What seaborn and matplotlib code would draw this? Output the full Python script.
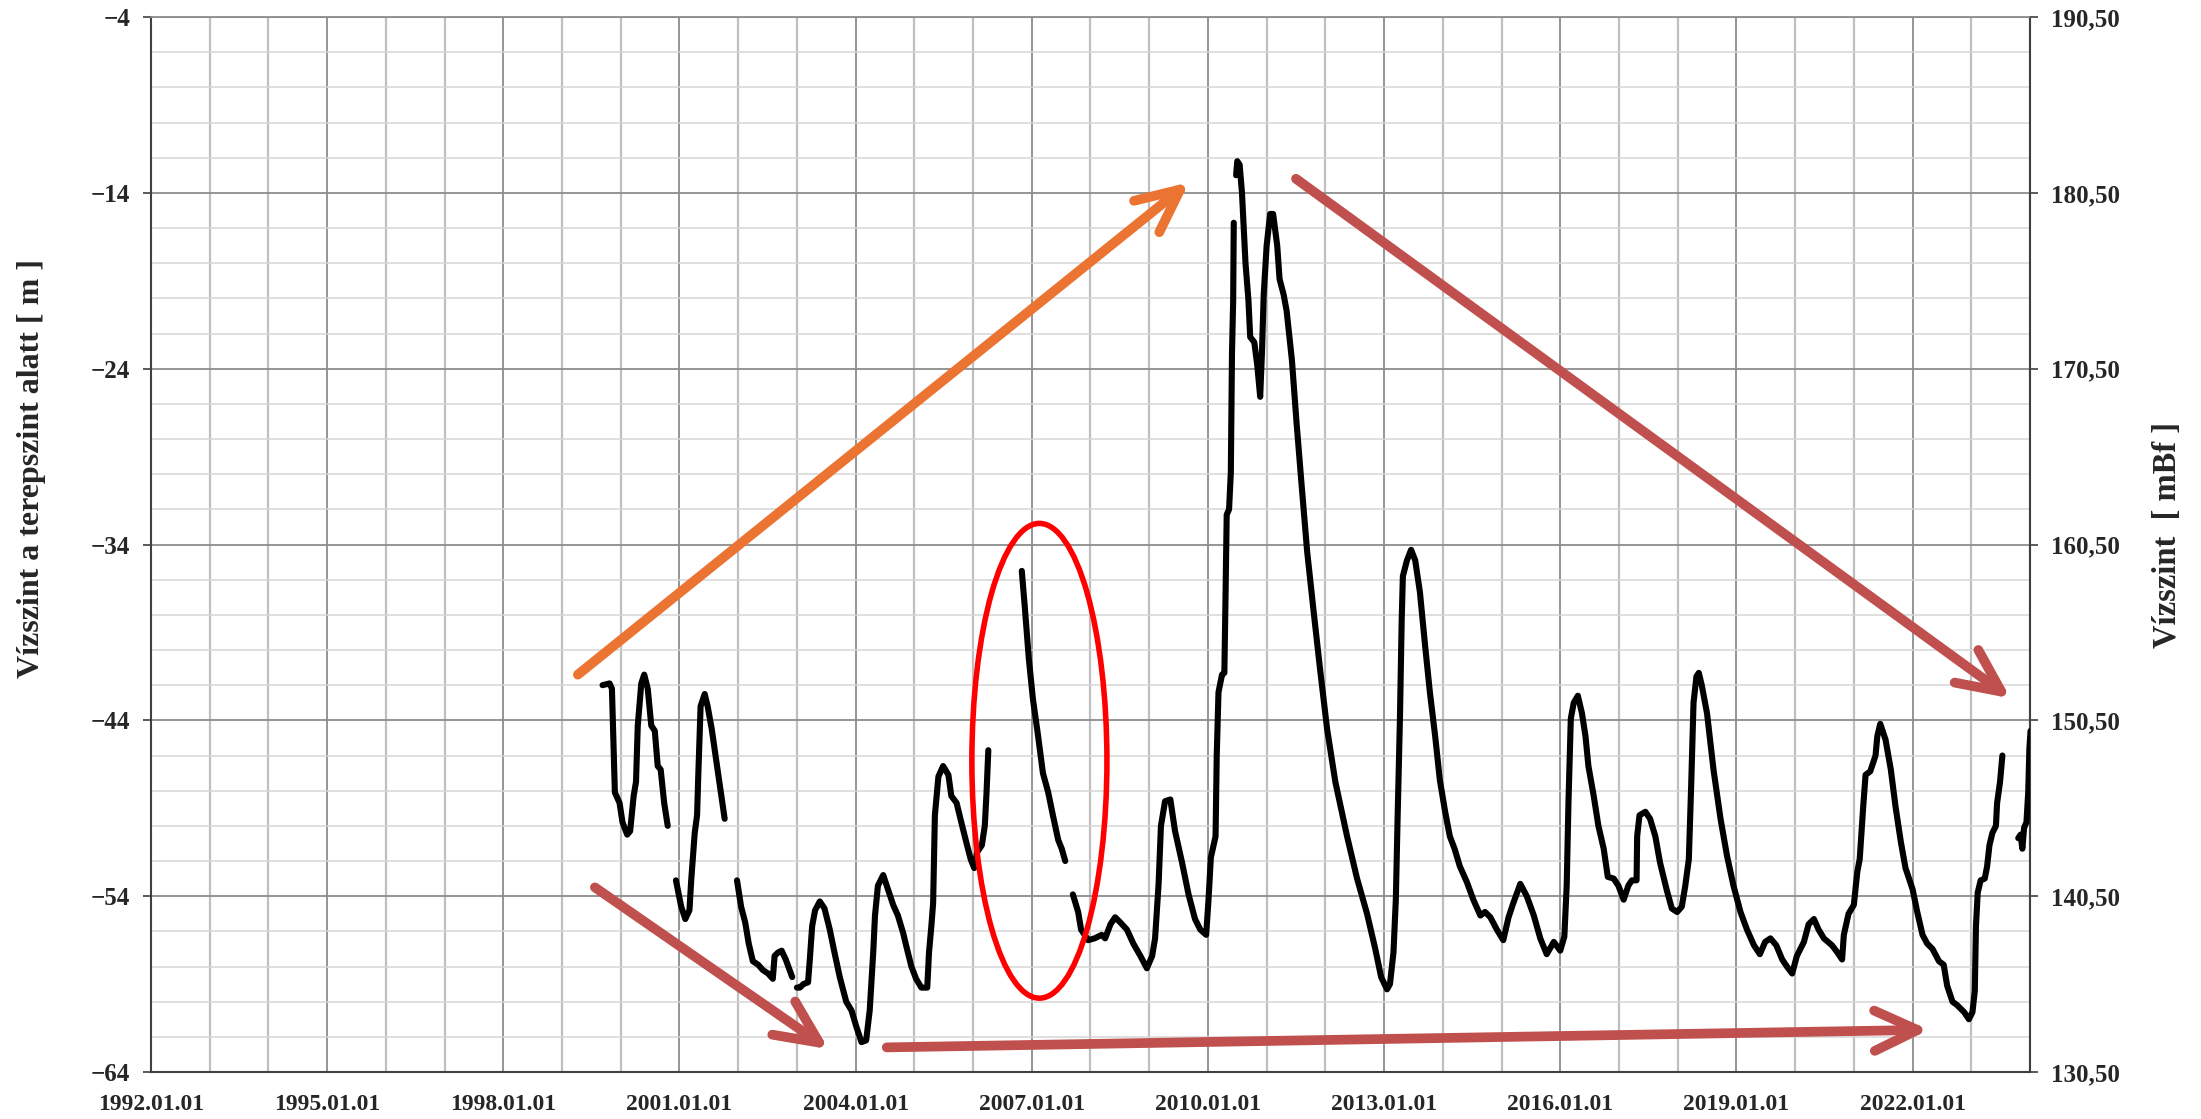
import pandas as pd
import matplotlib.pyplot as plt
import seaborn as sns
from matplotlib.patches import Ellipse
from matplotlib.ticker import MultipleLocator, FixedLocator, FuncFormatter

# Vízszint adatok (tizedes év, m a terepszint alatt), szakaszonként
ev_1 = [1999.69, 1999.81, 1999.85, 1999.90, 1999.98, 2000.03, 2000.11, 2000.16, 2000.22, 2000.26,
        2000.29, 2000.35, 2000.40, 2000.46, 2000.52, 2000.58, 2000.63, 2000.68, 2000.74, 2000.80]
szint_1 = [-42.0, -41.9, -42.2, -48.1, -48.7, -49.8, -50.5, -50.3, -48.3, -47.5,
           -44.3, -41.9, -41.4, -42.2, -44.3, -44.6, -46.6, -46.8, -48.7, -50.0]

ev_2 = [2000.94, 2001.03, 2001.10, 2001.17, 2001.20, 2001.26, 2001.30, 2001.32, 2001.36, 2001.43,
        2001.48, 2001.55, 2001.64, 2001.77]
szint_2 = [-53.1, -54.6, -55.3, -54.8, -53.1, -50.4, -49.4, -47.2, -43.2, -42.5,
           -43.2, -44.5, -46.6, -49.6]

ev_3 = [2001.98, 2002.05, 2002.12, 2002.18, 2002.25, 2002.34, 2002.42, 2002.51, 2002.59, 2002.62,
        2002.68, 2002.74, 2002.81, 2002.92]
szint_3 = [-53.1, -54.6, -55.5, -56.7, -57.7, -57.9, -58.2, -58.4, -58.7, -57.4,
           -57.2, -57.1, -57.6, -58.6]

ev_4 = [2003.00, 2003.05, 2003.11, 2003.19, 2003.22, 2003.26, 2003.31, 2003.39, 2003.47, 2003.56,
        2003.64, 2003.73, 2003.84, 2003.93, 2004.01, 2004.10, 2004.18, 2004.24, 2004.30, 2004.33,
        2004.38, 2004.47, 2004.55, 2004.64, 2004.72, 2004.81, 2004.86, 2004.95, 2005.03, 2005.12,
        2005.22, 2005.25, 2005.29, 2005.32, 2005.35, 2005.41, 2005.49, 2005.58, 2005.63, 2005.72,
        2005.80, 2005.89, 2005.96, 2006.02, 2006.07, 2006.15, 2006.20, 2006.23, 2006.26]
szint_4 = [-59.2, -59.2, -59.0, -58.9, -57.6, -55.7, -54.8, -54.3, -54.7, -55.9,
           -57.2, -58.6, -60.0, -60.5, -61.4, -62.3, -62.2, -60.5, -57.2, -55.1,
           -53.4, -52.8, -53.6, -54.5, -55.1, -56.1, -56.8, -58.0, -58.7, -59.2,
           -59.2, -57.2, -55.7, -54.4, -49.4, -47.2, -46.6, -47.1, -48.3, -48.7,
           -49.8, -51.0, -51.9, -52.4, -51.5, -51.1, -50.0, -48.1, -45.7]

ev_5 = [2006.83, 2006.88, 2006.95, 2007.02, 2007.10, 2007.19, 2007.28, 2007.36, 2007.45, 2007.51, 2007.57]
szint_5 = [-35.5, -37.5, -40.5, -42.8, -44.7, -47.0, -48.1, -49.4, -50.8, -51.3, -52.0]

ev_6 = [2007.70, 2007.79, 2007.84, 2007.96, 2008.07, 2008.19, 2008.25, 2008.34, 2008.42, 2008.51,
        2008.62, 2008.73, 2008.85, 2008.96, 2009.05, 2009.10, 2009.16, 2009.20, 2009.27, 2009.36,
        2009.44, 2009.56, 2009.67, 2009.78, 2009.87, 2009.97, 2010.01, 2010.05, 2010.13, 2010.15,
        2010.18, 2010.24, 2010.28, 2010.30, 2010.32, 2010.36, 2010.39, 2010.41, 2010.43, 2010.44]
szint_6 = [-53.9, -54.9, -55.9, -56.5, -56.4, -56.2, -56.4, -55.6, -55.2, -55.5,
           -55.9, -56.7, -57.4, -58.1, -57.4, -56.4, -53.3, -50.0, -48.6, -48.5,
           -50.3, -52.1, -53.9, -55.3, -55.9, -56.2, -54.2, -51.8, -50.6, -46.0,
           -42.4, -41.4, -41.3, -36.9, -32.3, -32.0, -29.9, -23.1, -20.1, -15.7]

ev_7 = [2010.48, 2010.50, 2010.54, 2010.58, 2010.64, 2010.69, 2010.72, 2010.79, 2010.84, 2010.89,
        2010.92, 2010.95, 2011.00, 2011.06, 2011.11, 2011.18, 2011.22, 2011.29, 2011.34, 2011.43,
        2011.51, 2011.60, 2011.69, 2011.80, 2011.91, 2012.03, 2012.17, 2012.37, 2012.54, 2012.71,
        2012.85, 2012.95, 2013.05, 2013.10, 2013.16, 2013.20, 2013.23, 2013.27, 2013.30, 2013.32,
        2013.39, 2013.46, 2013.53, 2013.61, 2013.70, 2013.78, 2013.87, 2013.95, 2014.04, 2014.12,
        2014.20, 2014.29, 2014.41, 2014.52, 2014.64, 2014.72, 2014.81, 2014.92, 2015.03, 2015.12,
        2015.20, 2015.32, 2015.43, 2015.55, 2015.66, 2015.77, 2015.89, 2016.00, 2016.07, 2016.11,
        2016.14, 2016.18, 2016.23, 2016.30, 2016.37, 2016.43, 2016.48, 2016.57, 2016.65, 2016.74,
        2016.81, 2016.91, 2016.99, 2017.08, 2017.16, 2017.22, 2017.30, 2017.31, 2017.35, 2017.45,
        2017.53, 2017.62, 2017.70, 2017.81, 2017.90, 2017.99, 2018.07, 2018.13, 2018.19, 2018.23,
        2018.27, 2018.32, 2018.36, 2018.41, 2018.50, 2018.61, 2018.73, 2018.84, 2018.95, 2019.07,
        2019.18, 2019.30, 2019.40, 2019.49, 2019.58, 2019.68, 2019.78, 2019.86, 2019.95, 2020.03,
        2020.15, 2020.23, 2020.32, 2020.40, 2020.49, 2020.63, 2020.72, 2020.80, 2020.83, 2020.91,
        2021.00, 2021.06, 2021.10, 2021.16, 2021.20, 2021.28, 2021.37, 2021.40, 2021.45, 2021.54,
        2021.63, 2021.71, 2021.80, 2021.88, 2022.00, 2022.08, 2022.17, 2022.25, 2022.34, 2022.45,
        2022.53, 2022.59, 2022.68, 2022.76, 2022.88, 2022.96, 2023.02, 2023.06, 2023.08, 2023.11,
        2023.16, 2023.23, 2023.27, 2023.31, 2023.36, 2023.42, 2023.44, 2023.49, 2023.53]
szint_7 = [-13.0, -12.2, -12.4, -14.0, -18.0, -20.1, -22.2, -22.5, -23.8, -25.6,
           -23.1, -19.8, -17.0, -15.2, -15.2, -17.0, -18.9, -19.8, -20.7, -23.5,
           -27.1, -30.8, -34.4, -37.8, -41.1, -44.5, -47.5, -50.6, -53.0, -55.0,
           -57.0, -58.6, -59.3, -59.0, -57.2, -54.2, -49.6, -43.9, -38.3, -35.8,
           -34.9, -34.3, -34.9, -36.7, -39.8, -42.4, -44.9, -47.4, -49.2, -50.6,
           -51.3, -52.3, -53.2, -54.2, -55.1, -54.9, -55.2, -55.9, -56.5, -55.2,
           -54.4, -53.3, -54.0, -55.1, -56.4, -57.3, -56.6, -57.1, -56.3, -53.4,
           -48.7, -43.9, -43.0, -42.6, -43.6, -44.9, -46.6, -48.3, -50.0, -51.3,
           -52.9, -53.0, -53.4, -54.2, -53.4, -53.1, -53.1, -50.6, -49.4, -49.2,
           -49.6, -50.6, -52.1, -53.6, -54.7, -54.9, -54.6, -53.4, -51.9, -47.7,
           -43.0, -41.5, -41.3, -42.0, -43.6, -46.8, -49.6, -51.7, -53.4, -54.9,
           -55.9, -56.8, -57.3, -56.6, -56.4, -56.8, -57.6, -58.0, -58.4, -57.4,
           -56.6, -55.6, -55.3, -55.9, -56.4, -56.8, -57.2, -57.6, -56.2, -55.0,
           -54.5, -52.6, -51.9, -48.9, -47.1, -46.9, -46.0, -44.9, -44.2, -45.1,
           -46.8, -48.9, -50.9, -52.4, -53.6, -54.9, -56.2, -56.7, -57.0, -57.7,
           -57.9, -59.1, -60.0, -60.2, -60.6, -61.0, -60.6, -59.4, -55.7, -53.8,
           -53.1, -53.0, -52.3, -51.1, -50.4, -50.0, -48.7, -47.5, -46.0]

ev_8 = [2023.80, 2023.84, 2023.87, 2023.90, 2023.94, 2023.97, 2023.99, 2024.01]
szint_8 = [-50.7, -50.5, -51.3, -50.1, -49.8, -48.1, -45.6, -44.6]

szakaszok = [(ev_1, szint_1), (ev_2, szint_2), (ev_3, szint_3), (ev_4, szint_4),
             (ev_5, szint_5), (ev_6, szint_6), (ev_7, szint_7), (ev_8, szint_8)]
df = pd.concat([pd.DataFrame({"ev": e, "szint": s, "szakasz": i})
                for i, (e, s) in enumerate(szakaszok)], ignore_index=True)

x_tick_evek = list(range(1992, 2023, 3))
bal_tickek = [-64, -54, -44, -34, -24, -14, -4]
jobb_tickek = [130.5, 140.5, 150.5, 160.5, 170.5, 180.5, 190.5]

sns.set_style("white")
plt.rcParams["font.family"] = ["Liberation Serif", "DejaVu Serif"]
plt.rcParams["font.weight"] = "bold"

fig = plt.figure(figsize=(22.01, 11.19), dpi=100)
ax = fig.add_axes([0.0686, 0.042, 0.8537, 0.9428])

sns.lineplot(data=df, x="ev", y="szint", units="szakasz", estimator=None, sort=False,
             color="black", lw=4.4, ax=ax, zorder=3,
             solid_joinstyle="round", solid_capstyle="round")

ax.set_xlim(1992, 2024)
ax.set_ylim(-64, -4)
ax.xaxis.set_major_locator(FixedLocator(x_tick_evek))
ax.xaxis.set_minor_locator(MultipleLocator(1))
ax.xaxis.set_major_formatter(FuncFormatter(lambda v, p: f"{int(round(v))}.01.01"))
ax.yaxis.set_major_locator(FixedLocator(bal_tickek))
ax.yaxis.set_minor_locator(MultipleLocator(2))
ax.set_xlabel("")
ax.set_ylabel("")

ax.set_axisbelow(True)
ax.xaxis.grid(True, which="major", color="#8C8C8C", lw=1.3)
ax.xaxis.grid(True, which="minor", color="#BFBFBF", lw=1.6)
ax.yaxis.grid(True, which="major", color="#8C8C8C", lw=1.3)
ax.yaxis.grid(True, which="minor", color="#D6D6D6", lw=1.1)

ax.tick_params(axis="both", which="major", direction="out", length=6, width=1.2,
               color="#404040", pad=9)
ax.tick_params(axis="x", labelsize=17, pad=10)
ax.tick_params(axis="y", labelsize=18)
ax.tick_params(which="minor", length=0)
for side in ["left", "bottom", "right"]:
    ax.spines[side].set_color("#404040")
    ax.spines[side].set_linewidth(1.5)
ax.spines["top"].set_color("#8C8C8C")
ax.spines["top"].set_linewidth(1.3)

# jobb oldali tengely (mBf)
ax2 = ax.twinx()
ax2.set_ylim(130.5, 190.5)
ax2.yaxis.set_major_locator(FixedLocator(jobb_tickek))
ax2.yaxis.set_major_formatter(FuncFormatter(lambda v, p: f"{v:.2f}".replace(".", ",")))
ax2.tick_params(axis="y", direction="out", length=6, width=1.2, color="#404040",
                labelsize=18, pad=9)
ax2.grid(False)
for side in ["left", "bottom", "right", "top"]:
    ax2.spines[side].set_visible(False)

fig.text(0.0141, 0.581, "Vízszint a terepszint alatt [ m ]", rotation=90,
         ha="center", va="center", fontsize=23, fontweight="bold")
fig.text(0.985, 0.522, "Vízszint  [ mBf ]", rotation=90,
         ha="center", va="center", fontsize=23.5, fontweight="bold")

# nyilak és ellipszis
piros = "#C0504D"
narancs = "#EC7433"
nyil = "->,head_length=3.1,head_width=1.45"
kw = dict(arrowstyle=nyil, lw=7, mutation_scale=10, shrinkA=0, shrinkB=0,
          capstyle="round", joinstyle="round")
ax.annotate("", xy=(2009.68, -13.4), xytext=(1999.27, -41.4),
            arrowprops=dict(color=narancs, **kw), zorder=5)
ax.annotate("", xy=(2023.67, -42.75), xytext=(2011.5, -13.2),
            arrowprops=dict(color=piros, **kw), zorder=5)
ax.annotate("", xy=(2003.54, -62.7), xytext=(1999.56, -53.5),
            arrowprops=dict(color=piros, **kw), zorder=5)
ax.annotate("", xy=(2022.28, -61.6), xytext=(2004.53, -62.6),
            arrowprops=dict(color=piros, **kw), zorder=5)
ax.add_patch(Ellipse((2007.13, -46.3), 2.3, 27.0, fill=False, ec="#FF0000", lw=4, zorder=5))

fig.savefig("out.png", dpi=100)
